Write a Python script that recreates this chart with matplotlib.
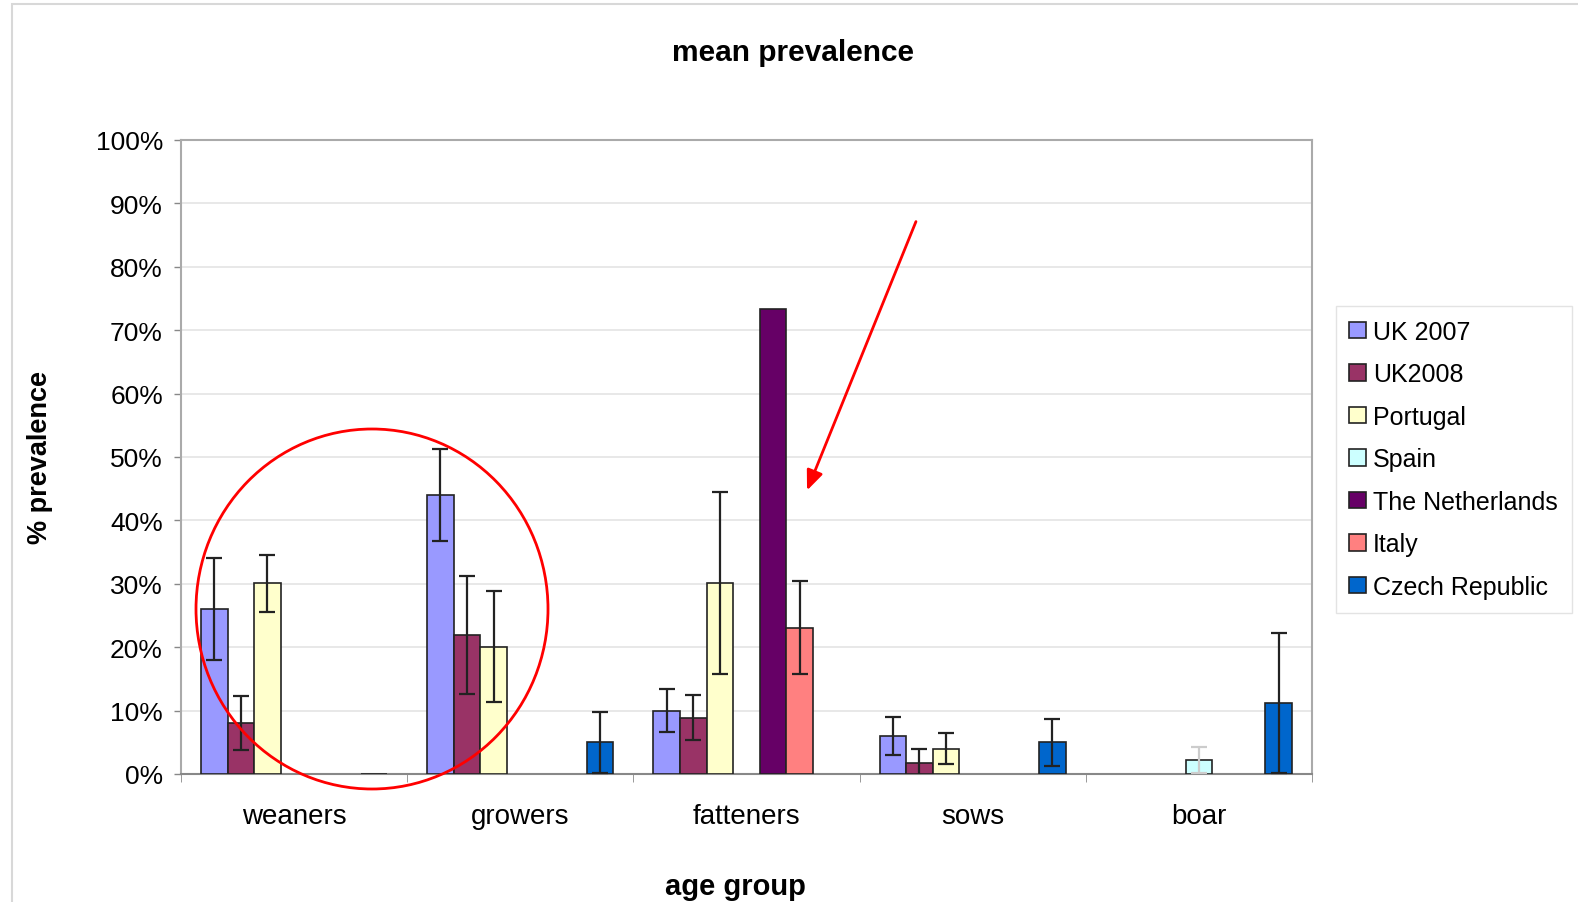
import numpy as np
import matplotlib
matplotlib.use('Agg')
import matplotlib.pyplot as plt
from matplotlib.patches import Ellipse, Rectangle, FancyArrowPatch

plt.rcParams['font.family'] = ['Liberation Sans', 'DejaVu Sans']

# data (%), nan = no bar
age_groups = ['weaners', 'growers', 'fatteners', 'sows', 'boar']
series = ['UK 2007', 'UK2008', 'Portugal', 'Spain', 'The Netherlands', 'Italy', 'Czech Republic']
colors = ['#9999FF', '#993366', '#FFFFCC', '#CCFFFF', '#660066', '#FF8080', '#0066CC']

uk2007 = [26.0, 44.0, 10.0, 6.0, np.nan]
uk2008 = [8.0, 21.9, 8.9, 1.7, np.nan]
portugal = [30.1, 20.1, 30.1, 4.0, np.nan]
spain = [np.nan, np.nan, np.nan, np.nan, 2.2]
netherlands = [np.nan, np.nan, 73.3, np.nan, np.nan]
italy = [np.nan, np.nan, 23.1, np.nan, np.nan]
czech = [0.0, 5.0, np.nan, 5.0, 11.2]

uk2007_err = [8.0, 7.2, 3.4, 3.0, np.nan]
uk2008_err = [4.3, 9.3, 3.5, 2.3, np.nan]
portugal_err = [4.5, 8.8, 14.3, 2.4, np.nan]
spain_err = [np.nan, np.nan, np.nan, np.nan, 2.1]
netherlands_err = [np.nan] * 5
italy_err = [np.nan, np.nan, 7.3, np.nan, np.nan]
czech_err = [np.nan, 4.8, np.nan, 3.7, 11.1]

values = [uk2007, uk2008, portugal, spain, netherlands, italy, czech]
errors = [uk2007_err, uk2008_err, portugal_err, spain_err, netherlands_err, italy_err, czech_err]

fig = plt.figure(figsize=(15.78, 9.03), dpi=100)
ax = fig.add_axes([0.1147, 0.1418, 0.7167, 0.7021])

n = len(series)
bar_w = 1.0 / (n + 1.5)   # excel gap width 150%
x = np.arange(len(age_groups))

for i, (name, vals, errs, c) in enumerate(zip(series, values, errors, colors)):
    pos = x - 0.5 + 0.75 * bar_w + (i + 0.5) * bar_w
    vals = np.array(vals)
    errs = np.array(errs)
    ok = ~np.isnan(vals)
    ax.bar(pos[ok], vals[ok], bar_w, color=c, edgecolor='#222222', linewidth=1.2,
           label=name, zorder=3)
    e_ok = ~np.isnan(errs)
    ecol = '#cccccc' if name == 'Spain' else '#222222'
    ax.errorbar(pos[e_ok], vals[e_ok], yerr=errs[e_ok], fmt='none', ecolor=ecol,
                elinewidth=1.6, capsize=6, capthick=1.6, zorder=4)

ax.set_xlim(-0.5, len(age_groups) - 0.5)
ax.set_ylim(0, 100)
ax.set_yticks(np.arange(0, 101, 10))
ax.set_yticklabels([f'{v}%' for v in range(0, 101, 10)], fontsize=19)
ax.set_xticks(x)
ax.set_xticklabels(age_groups, fontsize=20)
ax.tick_params(axis='x', length=0, pad=21)
ax.tick_params(axis='y', length=5, width=1, color='#888888', pad=8)
ax.set_xticks(np.arange(-0.5, len(age_groups)), minor=True)
ax.tick_params(axis='x', which='minor', length=6, color='#888888')
ax.grid(axis='y', color='#e6e6e6', linewidth=1.3, zorder=0)
for s in ax.spines.values():
    s.set_color('#aaaaaa')
    s.set_linewidth(1.5)
ax.spines['bottom'].set_color('#888888')

fig.text(0.5026, 1 - 53 / 903, 'mean prevalence', fontsize=21.5, fontweight='bold',
         ha='center', va='center')
ax.set_ylabel('% prevalence', fontsize=19.5, fontweight='bold', labelpad=31)
ax.set_xlabel('age group', fontsize=21, fontweight='bold', labelpad=26)
ax.xaxis.set_label_coords(0.49, -0.155)

leg = ax.legend(loc='upper left', bbox_to_anchor=(1.021, 0.738), fontsize=18,
                frameon=True, fancybox=False, edgecolor='#dddddd',
                handlelength=0.65, handleheight=0.65, handletextpad=0.3,
                labelspacing=0.74, borderpad=0.55, borderaxespad=0)

# chart frame
fig.patches.append(Rectangle((12 / 1578, -0.05), 1.2, 1 - 5 / 903 + 0.05,
                             transform=fig.transFigure, fill=False,
                             edgecolor='#d8d8d8', linewidth=1.5))

# red annotations
fig.patches.append(Ellipse((372 / 1578, 1 - 610 / 903), 2 * 176 / 1578, 2 * 180 / 903,
                           transform=fig.transFigure, fill=False,
                           edgecolor='red', linewidth=2))
fig.patches.append(FancyArrowPatch((917 / 1578, 1 - 220 / 903), (806 / 1578, 1 - 494 / 903),
                                   transform=fig.transFigure, color='red',
                                   arrowstyle='-|>,head_length=12,head_width=5',
                                   linewidth=2))

fig.savefig('out.png', dpi=100)
